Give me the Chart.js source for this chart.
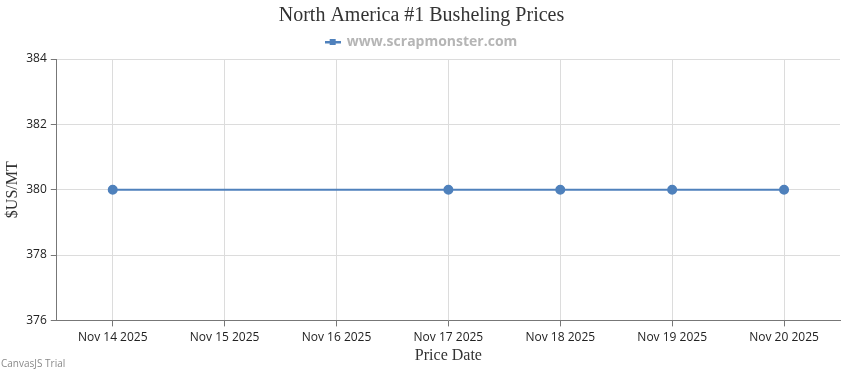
<!DOCTYPE html>
<html>
<head>
<meta charset="utf-8">
<script src="https://cdn.jsdelivr.net/npm/chart.js@4"></script>
<style>
html,body{margin:0;padding:0;background:#fff;}
#wrap{position:relative;width:850px;height:370px;}
#trial{position:absolute;left:1px;top:356px;font:10px "Open Sans",sans-serif;color:#8a8a8a;}
</style>
</head>
<body>
<div id="wrap">
<canvas id="c" width="850" height="370"></canvas>
<div id="trial">CanvasJS Trial</div>
</div>
<script>
const categories = ["Nov 14 2025","Nov 15 2025","Nov 16 2025","Nov 17 2025","Nov 18 2025","Nov 19 2025","Nov 20 2025"];
const prices = [380, null, null, 380, 380, 380, 380];
const yTicks = [376, 378, 380, 382, 384];
const seriesName = "www.scrapmonster.com";

const lineColor = '#4f81bc';
// legend marker: short line with a square in the middle
const marker = document.createElement('canvas');
marker.width = 16; marker.height = 8;
(function(){
  const g = marker.getContext('2d');
  g.fillStyle = lineColor;
  g.fillRect(0, 3, 16, 2.5);
  g.fillRect(5, 1, 6, 6);
})();

new Chart(document.getElementById('c'), {
  type: 'line',
  data: {
    labels: categories,
    datasets: [{
      label: seriesName,
      data: prices,
      borderColor: lineColor,
      backgroundColor: lineColor,
      borderWidth: 2,
      pointRadius: 4,
      pointHoverRadius: 4,
      spanGaps: true,
      tension: 0
    }]
  },
  options: {
    responsive: false,
    animation: false,
    layout: {padding: {left: 3, right: 10, top: 4, bottom: 5}},
    plugins: {
      title: {
        display: true,
        text: 'North America #1 Busheling Prices',
        color: '#333',
        font: {family: '"Liberation Serif", serif', size: 20, weight: 'normal'},
        padding: {top: 0, bottom: 0}
      },
      legend: {
        display: true,
        labels: {
          color: '#b5b5b5',
          font: {family: '"Open Sans", sans-serif', size: 14, weight: 'bold'},
          usePointStyle: true,
          pointStyle: marker,
          padding: 7
        }
      },
      tooltip: {enabled: false}
    },
    scales: {
      x: {
        type: 'category',
        offset: true,
        grid: {color: '#dcdcdc', tickLength: 6, tickColor: '#777', offset: false},
        border: {color: '#777', width: 1},
        ticks: {color: '#222', font: {family: '"Open Sans", sans-serif', size: 12}, maxRotation: 0, padding: 4},
        title: {display: true, text: 'Price Date', color: '#333', font: {family: '"Liberation Serif", serif', size: 16}, padding: {top: -3, bottom: 0}}
      },
      y: {
        min: yTicks[0],
        max: yTicks[yTicks.length-1],
        afterBuildTicks: (s) => { s.ticks = yTicks.map(v => ({value: v})); },
        grid: {color: '#dcdcdc', tickLength: 6, tickColor: '#777'},
        border: {color: '#777', width: 1},
        ticks: {color: '#222', font: {family: '"Open Sans", sans-serif', size: 12}, padding: 4},
        title: {display: true, text: '$US/MT', color: '#333', font: {family: '"Liberation Serif", serif', size: 16}, padding: {top: 0, bottom: 0}}
      }
    }
  }
});
</script>
</body>
</html>
